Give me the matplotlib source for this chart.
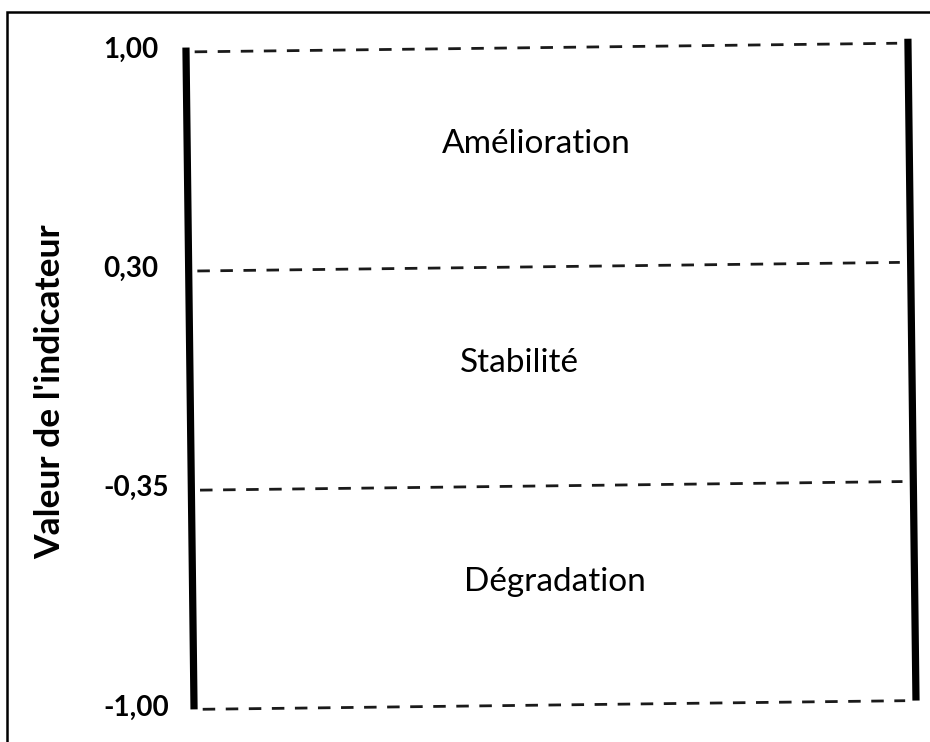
import matplotlib
matplotlib.use("Agg")
import matplotlib.pyplot as plt
import matplotlib.transforms as mtransforms
from matplotlib.patches import Rectangle

# seuils de l'indicateur (du haut vers le bas) et zones entre eux
levels = [1.00, 0.30, -0.35, -1.00]
level_labels = ["1,00", "0,30", "-0,35", "-1,00"]
zones = ["Amélioration", "Stabilité", "Dégradation"]
y_title = "Valeur de l'indicateur"

# placement horizontal des noms de zones (fraction de la largeur)
zone_x = [0.48, 0.456, 0.506]

plt.rcParams['font.family'] = ['Lato', 'DejaVu Sans']

W, H = 930, 742
fig = plt.figure(figsize=(W / 100, H / 100), dpi=100)
ax = fig.add_axes([190 / W, 1 - 705 / H, 722 / W, 657.5 / H])

n = len(levels)
pos = list(range(n - 1, -1, -1))  # seuils équidistants, le plus haut en premier
ax.set_xlim(0, 1)
ax.set_ylim(0, n - 1)

# léger basculement comme sur le schéma d'origine
bb = ax.get_position()
cx, cy = fig.transFigure.transform((bb.x0 + bb.width / 2, bb.y0 + bb.height / 2))
tilt = ax.transData + mtransforms.Affine2D().rotate_deg_around(cx, cy, 0.7)

for p in pos:
    ax.plot([0.012, 0.985], [p, p], ls=(0, (4.5, 3.8)), lw=2, color='#1a1a1a',
            transform=tilt, clip_on=False)

for x in (0, 1):
    ax.plot([x, x], [0, n - 1 + 0.02], lw=5.2, color='black',
            solid_capstyle='butt', transform=tilt, clip_on=False)

for i, name in enumerate(zones):
    mid = (pos[i] + pos[i + 1]) / 2
    ax.text(zone_x[i], mid + 0.06, name, ha='center', va='center',
            fontsize=24, color='black')

ax.set_yticks(pos, level_labels, fontweight='bold', fontsize=20)
plt.setp(ax.get_yticklabels(), ha='left')
ax.tick_params(axis='y', length=0, pad=62.6)
ax.set_xticks([])
for s in ax.spines.values():
    s.set_visible(False)

ax.set_ylabel(y_title, fontweight='bold', fontsize=25.5)
ax.yaxis.set_label_coords(-0.172, 0.476)

# cadre autour de l'image (coupé à droite et en bas)
fig.add_artist(Rectangle((7 / W, -0.1), 1.2, 1 - 12 / H + 0.1,
                         transform=fig.transFigure, fill=False, lw=1.8, ec='black'))

fig.savefig('out.png', dpi=100)
